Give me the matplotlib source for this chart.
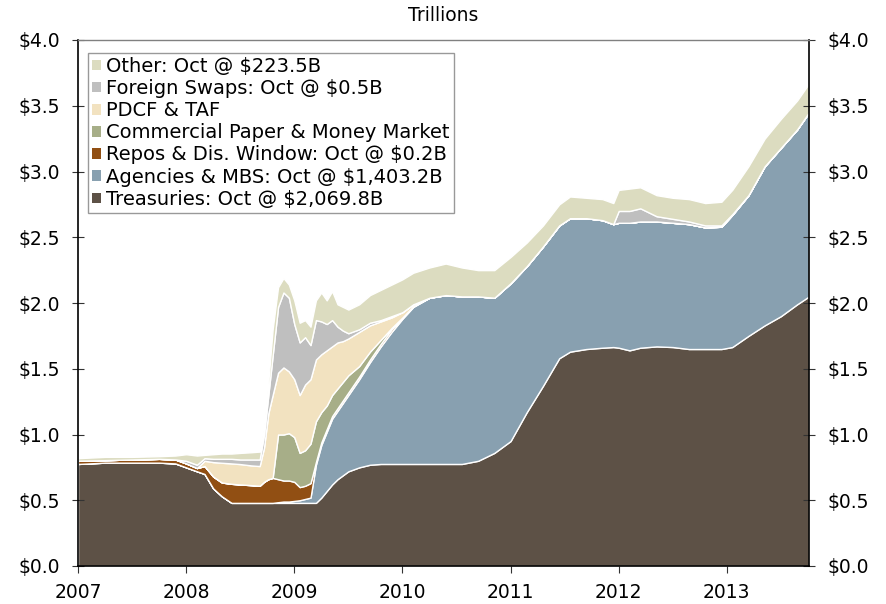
import numpy as np
import matplotlib
matplotlib.use("Agg")
import matplotlib.pyplot as plt
from matplotlib.patches import Patch

# dates as decimal years
dates = [2007.00, 2007.25, 2007.50, 2007.75, 2007.90, 2008.00, 2008.10, 2008.17,
         2008.25, 2008.33, 2008.42, 2008.50, 2008.60, 2008.68, 2008.72, 2008.76,
         2008.80, 2008.85, 2008.90, 2008.95, 2009.00, 2009.05, 2009.10, 2009.15,
         2009.20, 2009.25, 2009.30, 2009.35, 2009.40, 2009.45, 2009.50, 2009.60,
         2009.70, 2009.80, 2009.90, 2010.00, 2010.10, 2010.25, 2010.40, 2010.55,
         2010.70, 2010.85, 2011.00, 2011.15, 2011.30, 2011.45, 2011.55, 2011.70,
         2011.85, 2011.95, 2012.00, 2012.10, 2012.20, 2012.35, 2012.50, 2012.65,
         2012.80, 2012.95, 2013.05, 2013.20, 2013.35, 2013.50, 2013.65, 2013.76]

# values in trillions of dollars
treasuries = [0.776, 0.786, 0.786, 0.786, 0.78, 0.75, 0.72, 0.70,
              0.59, 0.53, 0.48, 0.48, 0.48, 0.48, 0.48, 0.48,
              0.48, 0.48, 0.48, 0.48, 0.48, 0.48, 0.48, 0.48,
              0.48, 0.52, 0.57, 0.62, 0.66, 0.69, 0.72, 0.75,
              0.77, 0.776, 0.776, 0.776, 0.776, 0.776, 0.776, 0.776,
              0.80, 0.86, 0.95, 1.17, 1.37, 1.58, 1.63, 1.65,
              1.66, 1.665, 1.66, 1.64, 1.66, 1.67, 1.665, 1.65,
              1.65, 1.65, 1.665, 1.75, 1.83, 1.90, 1.99, 2.05]
agencies = [0, 0, 0, 0, 0, 0, 0, 0,
            0, 0, 0, 0, 0, 0, 0, 0,
            0, 0.005, 0.01, 0.01, 0.015, 0.02, 0.03, 0.04,
            0.29, 0.40, 0.45, 0.50, 0.52, 0.55, 0.58, 0.67,
            0.78, 0.894, 1.004, 1.104, 1.194, 1.264, 1.284, 1.274,
            1.25, 1.18, 1.20, 1.11, 1.06, 1.01, 1.015, 0.995,
            0.97, 0.935, 0.95, 0.97, 0.96, 0.95, 0.945, 0.95,
            0.925, 0.93, 1.005, 1.07, 1.21, 1.28, 1.33, 1.40]
repos = [0.024, 0.019, 0.024, 0.029, 0.03, 0.03, 0.025, 0.06,
         0.09, 0.105, 0.145, 0.14, 0.135, 0.13, 0.16, 0.18,
         0.19, 0.175, 0.16, 0.16, 0.145, 0.10, 0.10, 0.11,
         0.02, 0.02, 0.02, 0.02, 0.02, 0.02, 0.02, 0.02,
         0.02, 0.02, 0.02, 0.01, 0.005, 0, 0, 0,
         0, 0, 0, 0, 0, 0, 0, 0,
         0, 0, 0, 0, 0, 0, 0, 0,
         0, 0, 0, 0, 0, 0, 0, 0]
comm_paper = [0, 0, 0, 0, 0, 0, 0, 0,
              0, 0, 0, 0, 0, 0, 0, 0,
              0, 0.34, 0.35, 0.36, 0.34, 0.26, 0.27, 0.30,
              0.31, 0.23, 0.18, 0.16, 0.15, 0.14, 0.13, 0.08,
              0.06, 0.03, 0.01, 0, 0, 0, 0, 0,
              0, 0, 0, 0, 0, 0, 0, 0,
              0, 0, 0, 0, 0, 0, 0, 0,
              0, 0, 0, 0, 0, 0, 0, 0]
pdcf_taf = [0, 0, 0, 0, 0, 0, 0, 0.04,
            0.11, 0.15, 0.155, 0.155, 0.15, 0.15, 0.26, 0.50,
            0.63, 0.47, 0.51, 0.47, 0.44, 0.44, 0.50, 0.49,
            0.47, 0.44, 0.42, 0.37, 0.35, 0.31, 0.28, 0.26,
            0.20, 0.14, 0.08, 0.04, 0.015, 0, 0, 0,
            0, 0, 0, 0, 0, 0, 0, 0,
            0, 0, 0, 0, 0, 0, 0, 0,
            0, 0, 0, 0, 0, 0, 0, 0]
swaps = [0, 0, 0, 0, 0, 0.02, 0.025, 0.02,
         0.025, 0.03, 0.035, 0.035, 0.045, 0.05, 0.10, 0.14,
         0.30, 0.50, 0.57, 0.56, 0.42, 0.40, 0.36, 0.26,
         0.30, 0.25, 0.20, 0.20, 0.12, 0.08, 0.04, 0.02,
         0.02, 0.01, 0.01, 0, 0, 0, 0, 0,
         0, 0, 0, 0, 0, 0, 0, 0,
         0, 0, 0.09, 0.09, 0.10, 0.04, 0.03, 0.02,
         0.015, 0.01, 0.005, 0, 0, 0, 0, 0]
other = [0.02, 0.025, 0.02, 0.02, 0.03, 0.05, 0.07, 0.025,
         0.035, 0.04, 0.04, 0.05, 0.055, 0.06, 0.05, 0.10,
         0.20, 0.15, 0.11, 0.10, 0.18, 0.15, 0.13, 0.14,
         0.15, 0.22, 0.18, 0.22, 0.17, 0.18, 0.18, 0.19,
         0.21, 0.23, 0.24, 0.25, 0.24, 0.23, 0.24, 0.22,
         0.20, 0.21, 0.20, 0.18, 0.16, 0.16, 0.165, 0.155,
         0.16, 0.16, 0.16, 0.17, 0.16, 0.16, 0.16, 0.17,
         0.17, 0.18, 0.185, 0.22, 0.21, 0.22, 0.22, 0.22]

labels = ["Treasuries: Oct @ $2,069.8B",
          "Agencies & MBS: Oct @ $1,403.2B",
          "Repos & Dis. Window: Oct @ $0.2B",
          "Commercial Paper & Money Market",
          "PDCF & TAF",
          "Foreign Swaps: Oct @ $0.5B",
          "Other: Oct @ $223.5B"]
colors = ["#5D5146", "#88A0B0", "#914F13", "#A7AE88", "#F2E2C0", "#BFBFBF", "#DCDCC0"]
years = [2007, 2008, 2009, 2010, 2011, 2012, 2013]

plt.rcParams['font.family'] = ['DejaVu Sans']
fig = plt.figure(figsize=(8.87, 6.04), dpi=100)
ax = fig.add_axes([78 / 887, 38 / 604, 731 / 887, 526 / 604])

ax.stackplot(dates, treasuries, agencies, repos, comm_paper, pdcf_taf, swaps, other,
             colors=colors, edgecolor='white', linewidth=1.0)

ax.set_xlim(2007, 2013.76)
ax.set_ylim(0, 4.0)
ax.set_xticks(years)
ax.set_xticklabels([str(y) for y in years])
yt = np.arange(0, 4.01, 0.5)
ax.set_yticks(yt)
ax.set_yticklabels(["$%.1f" % v for v in yt])
ax.tick_params(axis='y', direction='inout', length=8, pad=9, labelsize=13.5,
               colors='#333333', labelcolor='black', left=True, right=True,
               labelleft=True, labelright=True)
ax.tick_params(axis='x', direction='out', length=5, pad=7, labelsize=13.5,
               colors='#333333', labelcolor='black')

for side in ['left', 'right', 'bottom']:
    ax.spines[side].set_color('black')
    ax.spines[side].set_linewidth(1.2)
ax.spines['top'].set_color('#808080')
ax.spines['top'].set_linewidth(1.0)

ax.set_title("Trillions", fontsize=13.5, pad=14)

handles = [Patch(fc=c, ec='none', label=l) for c, l in zip(colors, labels)][::-1]
leg = ax.legend(handles=handles, loc='upper left', bbox_to_anchor=(0.0137, 0.975),
                borderaxespad=0, fontsize=14, frameon=True, fancybox=False,
                handlelength=0.45, handleheight=0.45, handletextpad=0.3,
                labelspacing=0.16, borderpad=0.2)
leg.get_frame().set_edgecolor('#808080')
leg.get_frame().set_linewidth(1.0)

fig.savefig("out.png", dpi=100)
